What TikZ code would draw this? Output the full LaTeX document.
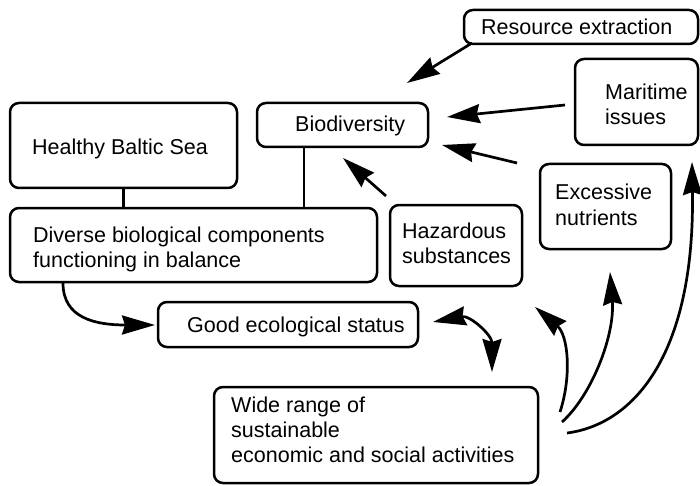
\documentclass[tikz,border=0pt]{standalone}
\usepackage{fontspec}
\setmainfont{Liberation Sans}
\usetikzlibrary{arrows.meta,calc}
\begin{document}
\begin{tikzpicture}[x=1pt,y=-1pt,
  box/.style={draw, line width=2.5pt, rounded corners=9pt, inner sep=0pt},
  txt/.style={inner sep=0pt, align=left, anchor=base west, font=\fontsize{21.5}{25}\selectfont},
  con/.style={line width=2.5pt},
  tip/.tip={Stealth[length=33pt,width=19pt,inset=3pt]},
  arr/.style={line width=2.7pt, -tip},
  darr/.style={line width=2.7pt, tip-tip}]
\useasboundingbox (0,0) rectangle (700,486);
% boxes
\node[box, minimum width=234pt, minimum height=34pt] (res) at (581,27) {};
\node[box, minimum width=123pt, minimum height=86pt] (mar) at (636.5,102) {};
\node[box, minimum width=171pt, minimum height=44pt] (bio) at (342.5,125) {};
\node[box, minimum width=227pt, minimum height=85pt] (hbs) at (123.5,145.5) {};
\node[box, minimum width=367pt, minimum height=74pt] (div) at (193.5,245) {};
\node[box, minimum width=132pt, minimum height=81pt] (haz) at (456,245.5) {};
\node[box, minimum width=131pt, minimum height=85pt] (exc) at (605.5,206.5) {};
\node[box, minimum width=260pt, minimum height=45pt] (ges) at (288,324.5) {};
\node[box, minimum width=324pt, minimum height=96pt] (wide) at (376,435) {};
% texts (base anchor = baseline of the last line)
\node[txt] (rest) at (481,35) {Resource extraction};
\node[txt] (mart) at (605,125) {Maritime\\issues};
\node[txt] (biot) at (295,132) {Biodiversity};
\node[txt] (hbst) at (32,155) {Healthy Baltic Sea};
\node[txt] (divt) at (33,267) {Diverse biological components\\functioning in balance};
\node[txt] (hazt) at (402,263) {Hazardous\\substances};
\node[txt] (exct) at (555,225) {Excessive\\nutrients};
\node[txt] (gest) at (187,332) {Good ecological status};
\node[txt] (widet) at (231,462) {Wide range of\\sustainable\\economic and social activities};
% plain connectors
\draw[con] (hbs.south) -- (hbs.south |- div.north);
\draw[con] ([xshift=-38.5pt]bio.south) -- ([xshift=-38.5pt]bio.south |- div.north);
% free ends
\coordinate (a1s) at (472,43);  \coordinate (a1e) at (407,83);
\coordinate (a2s) at (565,105); \coordinate (a2e) at (447,117);
\coordinate (a3s) at (517,163); \coordinate (a3e) at (442,145);
\coordinate (a4s) at (386,196); \coordinate (a4e) at (343,158);
\coordinate (a5s) at (63,283);  \coordinate (a5e) at (155,325);
\coordinate (a6s) at (433,322); \coordinate (a6e) at (492,372);
\coordinate (a7s) at (560,412); \coordinate (a7e) at (535,307);
\coordinate (a8s) at (562,422); \coordinate (a8e) at (610,272);
\coordinate (a9s) at (567,433); \coordinate (a9e) at (692,162);
% arrows
\draw[arr] (a1s) -- (a1e);
\draw[arr] (a2s) -- (a2e);
\draw[arr] (a3s) -- (a3e);
\draw[arr] (a4s) -- (a4e);
\draw[arr] (a5s) .. controls (63,318) and (95,325) .. (a5e);
\draw[darr] (a6s) .. controls (470,315) and (492,335) .. (a6e);
\draw[arr] (a7s) .. controls (572,375) and (568,335) .. (a7e);
\draw[arr] (a8s) .. controls (592,395) and (615,335) .. (a8e);
\draw[arr] (a9s) .. controls (630,425) and (695,360) .. (a9e);
\end{tikzpicture}
\end{document}
